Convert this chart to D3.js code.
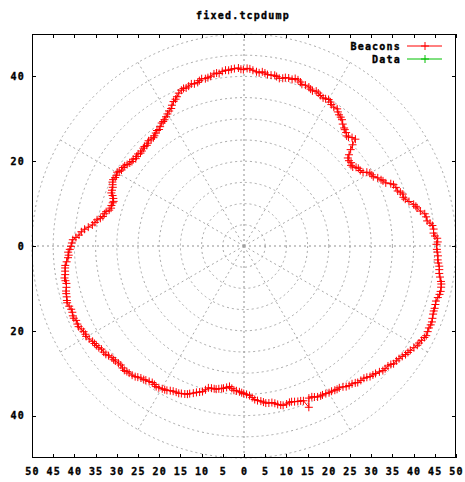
<!DOCTYPE html>
<html>
<head>
<meta charset="utf-8">
<script src="https://cdn.jsdelivr.net/npm/d3@7"></script>
<style>
  html, body { margin: 0; padding: 0; background: #fff; }
  svg { display: block; }
  text { font-family: "DejaVu Sans Mono", monospace; font-weight: bold; font-size: 10px; letter-spacing: 1.2px; fill: #000; stroke: #000; stroke-width: 0.35px; }
</style>
</head>
<body>
<script>
// ---- data ----
const title = "fixed.tcpdump";
const seriesNames = ["Beacons", "Data"];
const seriesColors = ["#ff0000", "#00c000"];
const xTicks = [-50,-45,-40,-35,-30,-25,-20,-15,-10,-5,0,5,10,15,20,25,30,35,40,45,50];
const yTicks = [-40,-20,0,20,40];
const gridRadii = [5,10,15,20,25,30,35,40,45,50];
const gridAngles = [0,30,60,90,120,150,180,210,240,270,300,330];

// Beacons: polar angle (degrees) and radius
const beaconAngles = [0.5,1.2,2.3,3.0,3.9,5.1,6.2,7.0,7.8,9.1,10.1,11.2,12.4,13.0,13.8,15.1,16.2,17.0,18.1,19.0,19.7,21.1,22.3,23.0,24.0,25.1,25.8,27.0,28.2,29.1,30.1,31.0,31.7,33.0,34.2,35.1,36.0,37.0,37.9,39.1,40.3,41.0,42.1,43.0,43.8,45.1,46.2,47.0,48.0,49.1,49.7,51.0,52.2,53.1,54.1,55.0,55.8,57.1,58.3,59.0,60.0,61.0,61.9,63.1,64.1,65.0,66.2,67.0,67.8,69.1,70.3,71.0,72.0,73.0,73.9,75.1,76.2,77.0,78.1,79.1,79.8,81.0,82.2,83.1,84.0,85.0,85.9,87.1,88.1,89.0,90.2,91.0,91.8,93.1,94.1,95.0,96.0,97.1,98.2,99.0,99.9,101.1,102.1,103.0,104.2,105.1,105.8,107.0,108.0,109.1,110.1,111.0,111.9,113.1,114.2,115.0,116.0,117.1,117.9,119.0,120.1,121.1,122.2,123.0,123.8,125.1,126.1,127.0,128.0,129.1,129.9,131.0,132.2,133.1,134.0,135.0,135.8,137.1,138.1,139.0,140.2,141.1,141.9,143.0,144.0,145.1,146.1,147.0,148.2,149.1,149.8,151.0,152.0,153.1,154.1,155.0,155.9,157.1,158.2,159.0,160.0,161.1,161.8,163.0,164.1,165.1,166.0,167.0,168.2,169.1,169.9,171.0,172.1,173.1,174.0,175.0,176.2,177.1,177.9,179.0,180.1,181.1,182.0,183.0,183.8,185.1,186.2,187.0,188.0,189.1,190.1,191.0,191.9,193.1,194.2,195.0,196.0,197.1,197.8,199.0,200.1,201.1,202.2,203.0,203.9,205.1,206.0,207.0,208.1,209.1,209.8,211.0,212.2,213.1,214.0,215.0,215.9,217.1,218.1,219.0,220.2,221.1,221.8,223.0,224.0,225.1,226.1,227.0,227.9,229.1,230.2,231.0,232.0,233.1,233.8,235.0,236.1,237.1,238.0,239.0,240.2,241.1,241.9,243.0,244.0,245.1,246.1,247.0,248.2,249.1,249.8,251.0,252.0,253.1,254.1,255.0,255.9,257.1,258.2,259.0,260.0,261.1,261.8,263.0,264.1,265.1,266.0,267.0,268.2,269.1,269.9,271.0,272.1,273.1,274.0,275.0,276.2,277.1,277.9,279.0,280.1,281.1,282.0,283.0,283.8,285.1,286.2,287.0,288.0,289.1,290.1,291.0,291.9,293.1,294.2,295.0,296.0,297.1,297.8,299.0,300.1,301.1,302.2,303.0,303.9,305.1,306.0,307.0,308.1,309.1,309.8,311.0,312.2,313.1,314.0,315.0,315.9,317.1,318.1,319.0,320.2,321.1,321.8,323.0,324.0,325.1,326.1,327.0,327.9,329.1,330.2,331.0,332.0,333.1,333.8,335.0,336.1,337.1,338.0,339.0,340.2,341.1,341.9,343.0,344.0,345.1,346.1,347.0,348.2,349.1,349.8,351.0,352.0,353.1,354.1,355.0,355.9,357.1,358.2,359.0];
const beaconRadii = [45.4,45.7,45.6,45.1,44.8,44.9,44.7,44.2,43.6,43.5,43.3,42.4,41.8,41.6,41.2,40.3,39.6,39.3,39.4,39.0,38.5,38.4,38.1,37.6,36.6,36.2,35.9,35.4,34.6,34.5,34.3,33.8,33.0,32.7,32.6,32.3,31.7,31.6,32.0,31.9,32.1,32.8,33.9,35.0,36.4,36.1,35.6,35.5,36.0,36.3,36.5,37.0,37.7,38.0,38.2,38.6,39.1,39.0,39.2,39.6,39.9,39.7,39.6,39.8,40.1,40.3,40.0,40.2,40.5,40.6,40.5,40.9,41.2,41.3,40.9,41.0,40.9,40.6,40.4,40.7,40.9,40.8,40.8,41.1,41.3,41.0,41.2,41.5,41.8,41.9,41.6,41.7,42.0,41.9,41.8,41.6,41.7,41.5,41.1,41.3,41.2,40.8,40.6,40.5,40.7,40.4,40.1,40.0,40.2,39.9,39.7,39.8,39.6,39.2,38.6,38.2,37.9,37.3,36.7,36.4,36.0,35.6,35.2,35.0,34.9,34.4,34.0,34.1,33.8,33.5,33.3,33.4,33.5,33.2,33.0,33.2,33.1,32.9,32.8,33.1,33.0,32.8,33.2,33.1,33.3,33.6,33.9,34.0,34.0,34.3,34.6,34.4,34.4,34.6,34.5,34.2,33.9,33.8,33.7,33.2,32.8,32.5,32.6,32.7,32.6,32.9,33.5,33.8,34.0,34.5,35.2,35.6,36.1,37.0,37.8,38.5,39.0,39.7,40.4,40.6,40.8,41.1,41.5,41.4,41.6,42.0,42.4,42.5,42.6,42.7,43.0,42.9,42.8,43.0,43.3,43.4,43.5,43.7,43.8,43.6,43.4,43.4,43.6,43.6,43.3,43.4,43.4,43.1,42.9,42.8,42.9,42.6,42.2,42.1,42.0,41.8,41.5,41.5,41.4,41.1,40.8,40.8,40.7,40.5,40.4,40.6,40.7,40.5,40.4,40.3,40.1,39.8,39.5,39.4,39.2,39.0,38.8,38.9,39.1,39.0,38.8,38.7,38.6,38.3,38.1,38.0,38.0,37.8,37.6,37.4,37.1,36.7,36.3,36.0,35.7,35.1,34.5,34.4,34.4,34.4,34.2,34.0,33.9,33.6,33.3,33.7,34.1,34.2,34.4,34.6,34.8,35.0,35.3,35.8,36.3,36.6,36.8,37.1,37.4,37.5,37.5,37.8,38.2,38.5,38.7,38.6,38.4,38.4,38.6,38.8,38.9,39.1,41.0,39.0,39.0,39.3,39.6,39.7,39.7,39.8,40.0,40.0,40.2,40.3,40.3,40.6,41.0,41.2,41.3,41.6,41.9,42.0,42.1,42.4,42.8,43.0,43.2,43.6,44.0,44.1,44.2,44.5,44.9,45.0,45.2,45.5,45.9,46.1,46.3,46.7,47.1,47.2,47.4,47.7,47.9,47.8,47.7,47.8,47.8,47.6,47.4,47.3,47.3,47.2,47.1,47.3,47.5,47.6,47.5,47.4,47.2,46.8,46.5,46.4,46.3,46.0,45.8,45.8,45.6,45.5];
// Data: no points in this capture
const dataAngles = [];
const dataRadii = [];

// ---- layout ----
const W = 465, H = 482;
const plot = { left: 32, right: 456, top: 34, bottom: 458 };

const svg = d3.select("body").append("svg").attr("width", W).attr("height", H);

const x = d3.scaleLinear().domain([-50, 50]).range([plot.left, plot.right]);
const y = d3.scaleLinear().domain([-50, 50]).range([plot.bottom, plot.top]);
const rpx = d3.scaleLinear().domain([0, 50]).range([0, x(50) - x(0)]);
const toXY = (a, r) => [x(r * Math.cos(a * Math.PI / 180)), y(r * Math.sin(a * Math.PI / 180))];

// ---- polar grid ----
const grid = svg.append("g").attr("fill", "none");
grid.selectAll("circle").data(gridRadii).enter().append("circle")
  .attr("cx", x(0)).attr("cy", y(0)).attr("r", d => rpx(d))
  .attr("stroke", "#a8a8a8").attr("stroke-width", 1).attr("stroke-dasharray", "2,3");
grid.selectAll("line.rad").data(gridAngles).enter().append("line")
  .attr("class", "rad")
  .attr("x1", x(0)).attr("y1", y(0))
  .attr("x2", d => toXY(d, 50)[0]).attr("y2", d => toXY(d, 50)[1])
  .attr("stroke", d => d % 90 === 0 ? "#909090" : "#a8a8a8")
  .attr("stroke-width", 1).attr("stroke-dasharray", "2,3");

// ---- axes ----
const fmt = d => String(Math.abs(d));
const axB = svg.append("g").attr("transform", `translate(0,${plot.bottom})`)
  .call(d3.axisBottom(x).tickValues(xTicks).tickSizeInner(-4).tickSizeOuter(0).tickPadding(10).tickFormat(fmt));
const axT = svg.append("g").attr("transform", `translate(0,${plot.top})`)
  .call(d3.axisTop(x).tickValues(xTicks).tickSizeInner(-4).tickSizeOuter(0).tickFormat(""));
const axL = svg.append("g").attr("transform", `translate(${plot.left},0)`)
  .call(d3.axisLeft(y).tickValues(yTicks).tickSizeInner(-4).tickSizeOuter(0).tickPadding(7).tickFormat(fmt));
const axR = svg.append("g").attr("transform", `translate(${plot.right},0)`)
  .call(d3.axisRight(y).tickValues(yTicks).tickSizeInner(-4).tickSizeOuter(0).tickFormat(""));
[axB, axT, axL, axR].forEach(g => {
  g.select(".domain").remove();
  g.selectAll(".tick line").attr("stroke", "#000").attr("shape-rendering", "crispEdges");
  g.selectAll("text").attr("font-family", null).attr("font-size", null).attr("fill", "#000");
});

// border
svg.append("rect")
  .attr("x", plot.left + 0.5).attr("y", plot.top + 0.5)
  .attr("width", plot.right - plot.left - 1).attr("height", plot.bottom - plot.top - 1)
  .attr("fill", "none").attr("stroke", "#000").attr("stroke-width", 1);

// ---- series ----
function drawSeries(angles, radii, color) {
  const pts = angles.map((a, i) => toXY(a, radii[i]));
  const g = svg.append("g");
  if (pts.length) {
    g.append("path").attr("d", d3.line().curve(d3.curveLinearClosed)(pts))
      .attr("fill", "none").attr("stroke", color).attr("stroke-width", 1);
  }
  const s = 4;
  g.selectAll("path.pt").data(pts).enter().append("path")
    .attr("class", "pt")
    .attr("d", p => `M${p[0]-s},${p[1]}H${p[0]+s}M${p[0]},${p[1]-s}V${p[1]+s}`)
    .attr("stroke", color).attr("stroke-width", 1).attr("fill", "none");
}
drawSeries(beaconAngles, beaconRadii, seriesColors[0]);
drawSeries(dataAngles, dataRadii, seriesColors[1]);

// ---- legend ----
const legY = [46, 59];
seriesNames.forEach((name, i) => {
  const ly = legY[i];
  svg.append("text").attr("x", 401).attr("y", ly + 3.5).attr("text-anchor", "end").text(name);
  svg.append("line").attr("x1", 407).attr("x2", 442).attr("y1", ly).attr("y2", ly)
    .attr("stroke", seriesColors[i]).attr("stroke-width", 1);
  svg.append("path").attr("d", `M${425-4},${ly}H${425+4}M425,${ly-4}V${ly+4}`)
    .attr("stroke", seriesColors[i]).attr("stroke-width", 1);
});

// ---- title ----
svg.append("text").attr("x", 243).attr("y", 19).attr("text-anchor", "middle").text(title);
</script>
</body>
</html>
